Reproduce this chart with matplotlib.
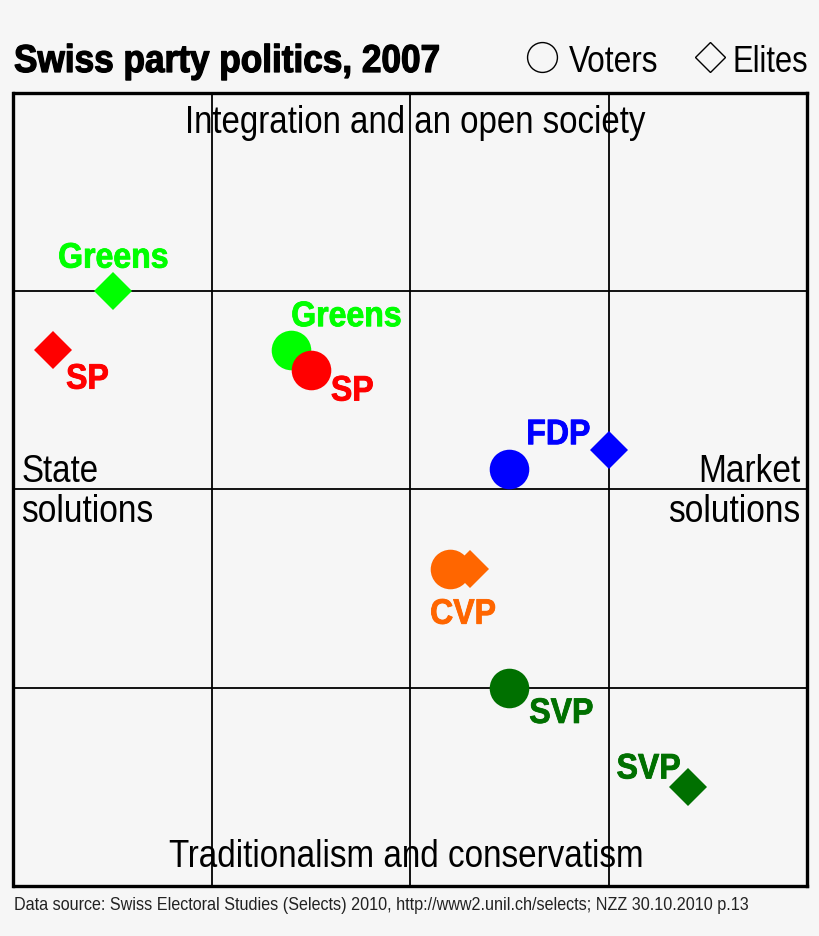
import os
import tempfile

import matplotlib.pyplot as plt
from fontTools.ttLib import TTFont
from matplotlib import font_manager as fm
from matplotlib import patheffects as pe

# party positions, grid unit = one cell
voter_names = ["Greens", "SP", "FDP", "CVP", "SVP"]
voter_x = [-0.6, -0.5, 0.5, 0.2, 0.5]
voter_y = [0.7, 0.6, 0.1, -0.4, -1.0]

elite_names = ["Greens", "SP", "FDP", "CVP", "SVP"]
elite_x = [-1.5, -1.8, 1.0, 0.3, 1.4]
elite_y = [1.0, 0.7, 0.2, -0.4, -1.5]

colors = {
    "Greens": "#00ff00",
    "SP": "#ff0000",
    "FDP": "#0000ff",
    "CVP": "#ff6600",
    "SVP": "#007000",
}

W, H = 820, 937
BG = "#f6f6f6"


def narrow_font(weight, squeeze):
    # no condensed family is installed, so squeeze Liberation Sans sideways
    src = fm.findfont(fm.FontProperties(family="Liberation Sans", weight=weight))
    font = TTFont(src)
    glyf = font["glyf"]
    hmtx = font["hmtx"]
    for name in font.getGlyphOrder():
        g = glyf[name]
        if g.isComposite():
            for c in g.components:
                c.x = int(c.x * squeeze)
        elif g.numberOfContours > 0:
            g.coordinates.scale((squeeze, 1))
        adv, lsb = hmtx[name]
        hmtx[name] = (int(adv * squeeze), int(lsb * squeeze))
    for name in font.getGlyphOrder():
        glyf[name].recalcBounds(glyf)
    path = os.path.join(tempfile.mkdtemp(), f"narrow_{weight}.ttf")
    font.save(path)
    return path


regular = narrow_font("normal", 0.85)
bold = narrow_font("bold", 0.905)


def reg(size):
    return fm.FontProperties(fname=regular, size=size)


def heavy(size):
    return fm.FontProperties(fname=bold, size=size)


fat = [pe.withStroke(linewidth=0.9, foreground="black")]

fig = plt.figure(figsize=(W / 100, H / 100), dpi=100, facecolor=BG)
ax = fig.add_axes([13.5 / W, 1 - 887 / H, 793.5 / W, 793.5 / H], facecolor=BG)
ax.set_xlim(-2, 2)
ax.set_ylim(-2, 2)
ax.set_xticks([-1, 0, 1])
ax.set_yticks([-1, 0, 1])
ax.tick_params(length=0, labelbottom=False, labelleft=False)
ax.grid(color="black", linewidth=1.3)
ax.set_axisbelow(True)
for s in ax.spines.values():
    s.set_linewidth(2.4)

for i, name in enumerate(voter_names):
    ax.plot(voter_x[i], voter_y[i], "o", color=colors[name], ms=28.5, mew=0, zorder=3)
for i, name in enumerate(elite_names):
    ax.plot(elite_x[i], elite_y[i], "D", color=colors[name], ms=19, mew=0, zorder=3)

# party labels: name, x, y (data units, left edge / centre)
label_names = ["Greens", "Greens", "SP", "SP", "FDP", "CVP", "SVP", "SVP"]
label_x = [-1.775, -0.6, -1.735, -0.4, 0.585, 0.1, 0.6, 1.04]
label_y = [1.165, 0.87, 0.555, 0.495, 0.275, -0.63, -1.13, -1.41]
for name, x, y in zip(label_names, label_x, label_y):
    ax.text(x, y, name, color=colors[name], fontproperties=heavy(25.5), ha="left", va="center",
            path_effects=[pe.withStroke(linewidth=0.6, foreground=colors[name])])

ax.text(0.025, 1.85, "Integration and an open society", fontproperties=reg(28), ha="center", va="center", zorder=5)
ax.text(-0.02, -1.85, "Traditionalism and conservatism", fontproperties=reg(28.2), ha="center", va="center", zorder=5)
ax.text(-1.96, 0.09, "State", fontproperties=reg(28), ha="left", va="center")
ax.text(-1.96, -0.11, "solutions", fontproperties=reg(28.4), ha="left", va="center")
ax.text(1.965, 0.09, "Market", fontproperties=reg(28.4), ha="right", va="center")
ax.text(1.965, -0.11, "solutions", fontproperties=reg(28.4), ha="right", va="center")

fig.text(14 / W, 1 - 63 / H, "Swiss party politics, 2007", fontproperties=heavy(28), va="center", path_effects=fat)
fig.text(569 / W, 1 - 62 / H, "Voters", fontproperties=reg(26.8), va="center")
fig.text(733 / W, 1 - 62 / H, "Elites", fontproperties=reg(26.2), va="center")
fig.text(14 / W, 1 - 906 / H,
         "Data source: Swiss Electoral Studies (Selects) 2010, http://www2.unil.ch/selects; NZZ 30.10.2010 p.13",
         fontproperties=reg(13.65), color="#222222", va="center")

# legend keys, in figure pixels
key = fig.add_axes([0, 0, 1, 1], facecolor="none")
key.set_xlim(0, W)
key.set_ylim(H, 0)
key.axis("off")
key.plot(542, 58, "o", mfc="none", mec="black", ms=21.5, mew=1)
key.plot(710, 58, "D", mfc="none", mec="black", ms=15.5, mew=1)

fig.savefig("out.png", dpi=100, facecolor=BG)
